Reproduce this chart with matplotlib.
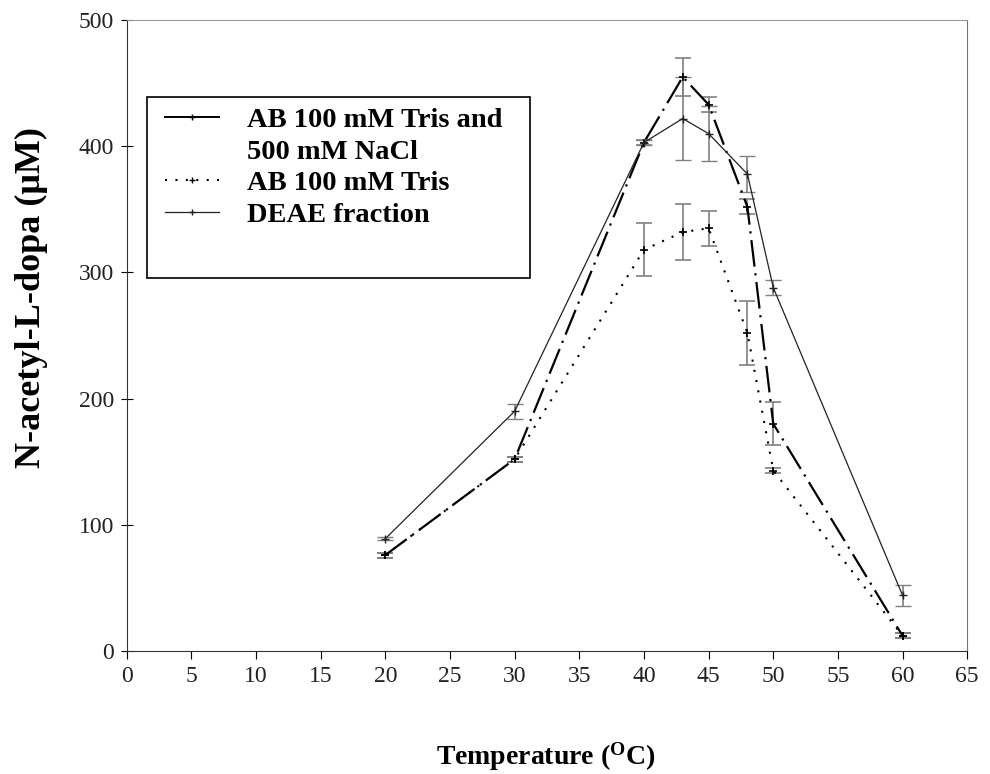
import matplotlib
matplotlib.use("Agg")
import matplotlib.pyplot as plt
from matplotlib.lines import Line2D
from matplotlib.patches import Rectangle

plt.rcParams['font.family'] = ['Liberation Serif', 'DejaVu Serif']
plt.rcParams['mathtext.fontset'] = 'custom'
plt.rcParams['mathtext.rm'] = 'Liberation Serif'
plt.rcParams['mathtext.bf'] = 'Liberation Serif:bold'

temperature = [20, 30, 40, 43, 45, 48, 50, 60]

nacl_values = [76, 152, 403, 455, 433, 352, 180, 12]
nacl_err = [2, 2, 2, 15, 6, 6, 17, 2]

tris_values = [76, 152, 318, 332, 335, 252, 143, 12]
tris_err = [2, 2, 21, 22, 14, 25, 2, 2]

deae_values = [89, 190, 403, 422, 410, 378, 288, 44]
deae_err = [1, 6, 2, 33, 22, 14, 6, 8]

labels = ["AB 100 mM Tris and", "500 mM NaCl", "AB 100 mM Tris", "DEAE fraction"]

x_ticks = list(range(0, 70, 5))
y_ticks = [0, 100, 200, 300, 400, 500]

fig = plt.figure(figsize=(9.9, 7.74), dpi=100)
ax = fig.add_axes([0.128, 0.159, 0.849, 0.815])

common = dict(ecolor='#808080', elinewidth=1.2, capsize=6, capthick=1.2)

l1 = ax.errorbar(temperature, nacl_values, yerr=nacl_err, color='black',
                 linestyle=(0, (12, 3, 1, 3)), linewidth=1.6,
                 marker='+', markersize=6, markeredgewidth=1.2, **common)
l2 = ax.errorbar(temperature, tris_values, yerr=tris_err, color='black',
                 linestyle=(0, (1, 4)), linewidth=1.5,
                 marker='+', markersize=6, markeredgewidth=1.2, **common)
l3 = ax.errorbar(temperature, deae_values, yerr=deae_err, color='#222222',
                 linestyle='-', linewidth=0.9,
                 marker='+', markersize=6, markeredgewidth=1.0, **common)

for lines in (l1, l2, l3):
    for cap in lines[1]:
        cap.set_color('black')

ax.set_xlim(0, 65)
ax.set_ylim(0, 500)
ax.set_xticks(x_ticks)
ax.set_yticks(y_ticks)
ax.tick_params(axis='y', direction='inout', length=8, width=0.8, labelsize=17,
               labelcolor='#222222', pad=5)
ax.tick_params(axis='x', direction='out', length=6, width=0.8, labelsize=17,
               labelcolor='#222222', pad=5)
for sp in ax.spines.values():
    sp.set_linewidth(0.8)
    sp.set_color('#333333')
ax.spines['top'].set_color('#999999')
ax.spines['right'].set_color('#777777')

ax.set_ylabel("N-acetyl-L-dopa (μM)", fontsize=26, fontweight='bold')
ax.yaxis.set_label_coords(-0.094, 0.56)
ax.set_xlabel(r"Temperature ($\mathbf{^{O}}$C)", fontsize=20, fontweight='bold')
ax.xaxis.set_label_coords(0.499, -0.142)

# legend frame
ax.add_patch(Rectangle((0.0238, 0.591), 0.456, 0.287, transform=ax.transAxes,
                       fill=True, facecolor='white', edgecolor='black',
                       linewidth=1.2, zorder=5))

handles = [
    Line2D([], [], color='black', linestyle='-', linewidth=1.4, marker='+', markersize=5),
    Line2D([], [], linestyle='none'),
    Line2D([], [], color='black', linestyle=(0, (1, 4)), linewidth=1.5, marker='+', markersize=5),
    Line2D([], [], color='#222222', linestyle='-', linewidth=0.9, marker='+', markersize=5),
]
leg = ax.legend(handles, labels, loc='upper left', bbox_to_anchor=(0.045, 0.862),
                prop={'size': 20.5, 'weight': 'bold'}, frameon=False,
                handlelength=1.93, handletextpad=0.95,
                borderpad=0, labelspacing=0.2, borderaxespad=0)
leg.set_zorder(6)

fig.savefig("out.png", dpi=100)
